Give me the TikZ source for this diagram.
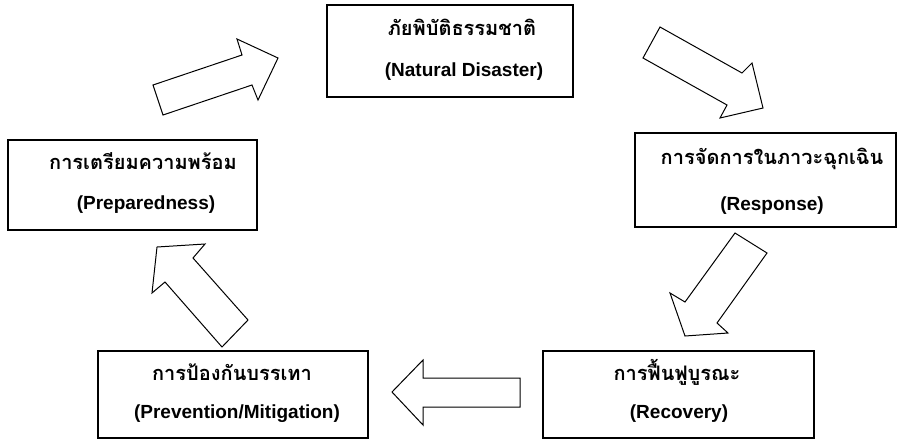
\documentclass[tikz,border=0pt]{standalone}
\usepackage{fontspec}
\setmainfont{Liberation Sans}
\newfontfamily\thaifont[Script=Thai]{Loma}
\tikzset{
  boxnode/.style={draw=black, line width=1.6pt, fill=white},
  thtext/.style={font=\thaifont\bfseries\fontsize{20}{22}\selectfont, inner sep=0pt},
  entext/.style={font=\bfseries\fontsize{19}{21}\selectfont, inner sep=0pt},
  blockarrow/.style={draw=black, line width=1pt, fill=white, line join=miter}
}
\begin{document}
\begin{tikzpicture}[x=1pt,y=-1pt]
\useasboundingbox (0,0) rectangle (899,440);
% boxes
\draw[boxnode] (327,5) rectangle (573,97);
\draw[boxnode] (635,133) rectangle (896,227);
\draw[boxnode] (543,351) rectangle (814,438);
\draw[boxnode] (98,351) rectangle (368,438);
\draw[boxnode] (8,140) rectangle (257,230);
% texts
\node[thtext] (t1) at (462,27) {ภัยพิบัติธรรมชาติ};
\node[entext] (e1) at (464,72) {(Natural Disaster)};
\node[thtext] (t2) at (772,159) {การจัดการในภาวะฉุกเฉิน};
\node[entext] (e2) at (772,206) {(Response)};
\node[thtext] (t3) at (677,372) {การฟื้นฟูบูรณะ};
\node[entext] (e3) at (679,414) {(Recovery)};
\node[thtext] (t4) at (232,372) {การป้องกันบรรเทา};
\node[entext] (e4) at (237,414) {(Prevention/Mitigation)};
\node[thtext] (t5) at (143,161) {การเตรียมความพร้อม};
\node[entext] (e5) at (146,205) {(Preparedness)};
% block arrows
\draw[blockarrow] (163,115) -- (153,85) -- (242,55) -- (237,39) -- (278,58) -- (258,100) -- (252,85) -- cycle;
\draw[blockarrow] (660,27) -- (643,58) -- (727,105) -- (720,118) -- (763,108) -- (752,63) -- (742,73) -- cycle;
\draw[blockarrow] (735,233) -- (767,253) -- (717,323) -- (728,333) -- (685,336) -- (670,293) -- (685,302) -- cycle;
\draw[blockarrow] (520,378) -- (423,378) -- (423,360) -- (392,392) -- (423,425) -- (423,407) -- (520,407) -- cycle;
\draw[blockarrow] (222,347) -- (248,320) -- (193,258) -- (205,244) -- (157,247) -- (152,293) -- (165,282) -- cycle;
\end{tikzpicture}
\end{document}
